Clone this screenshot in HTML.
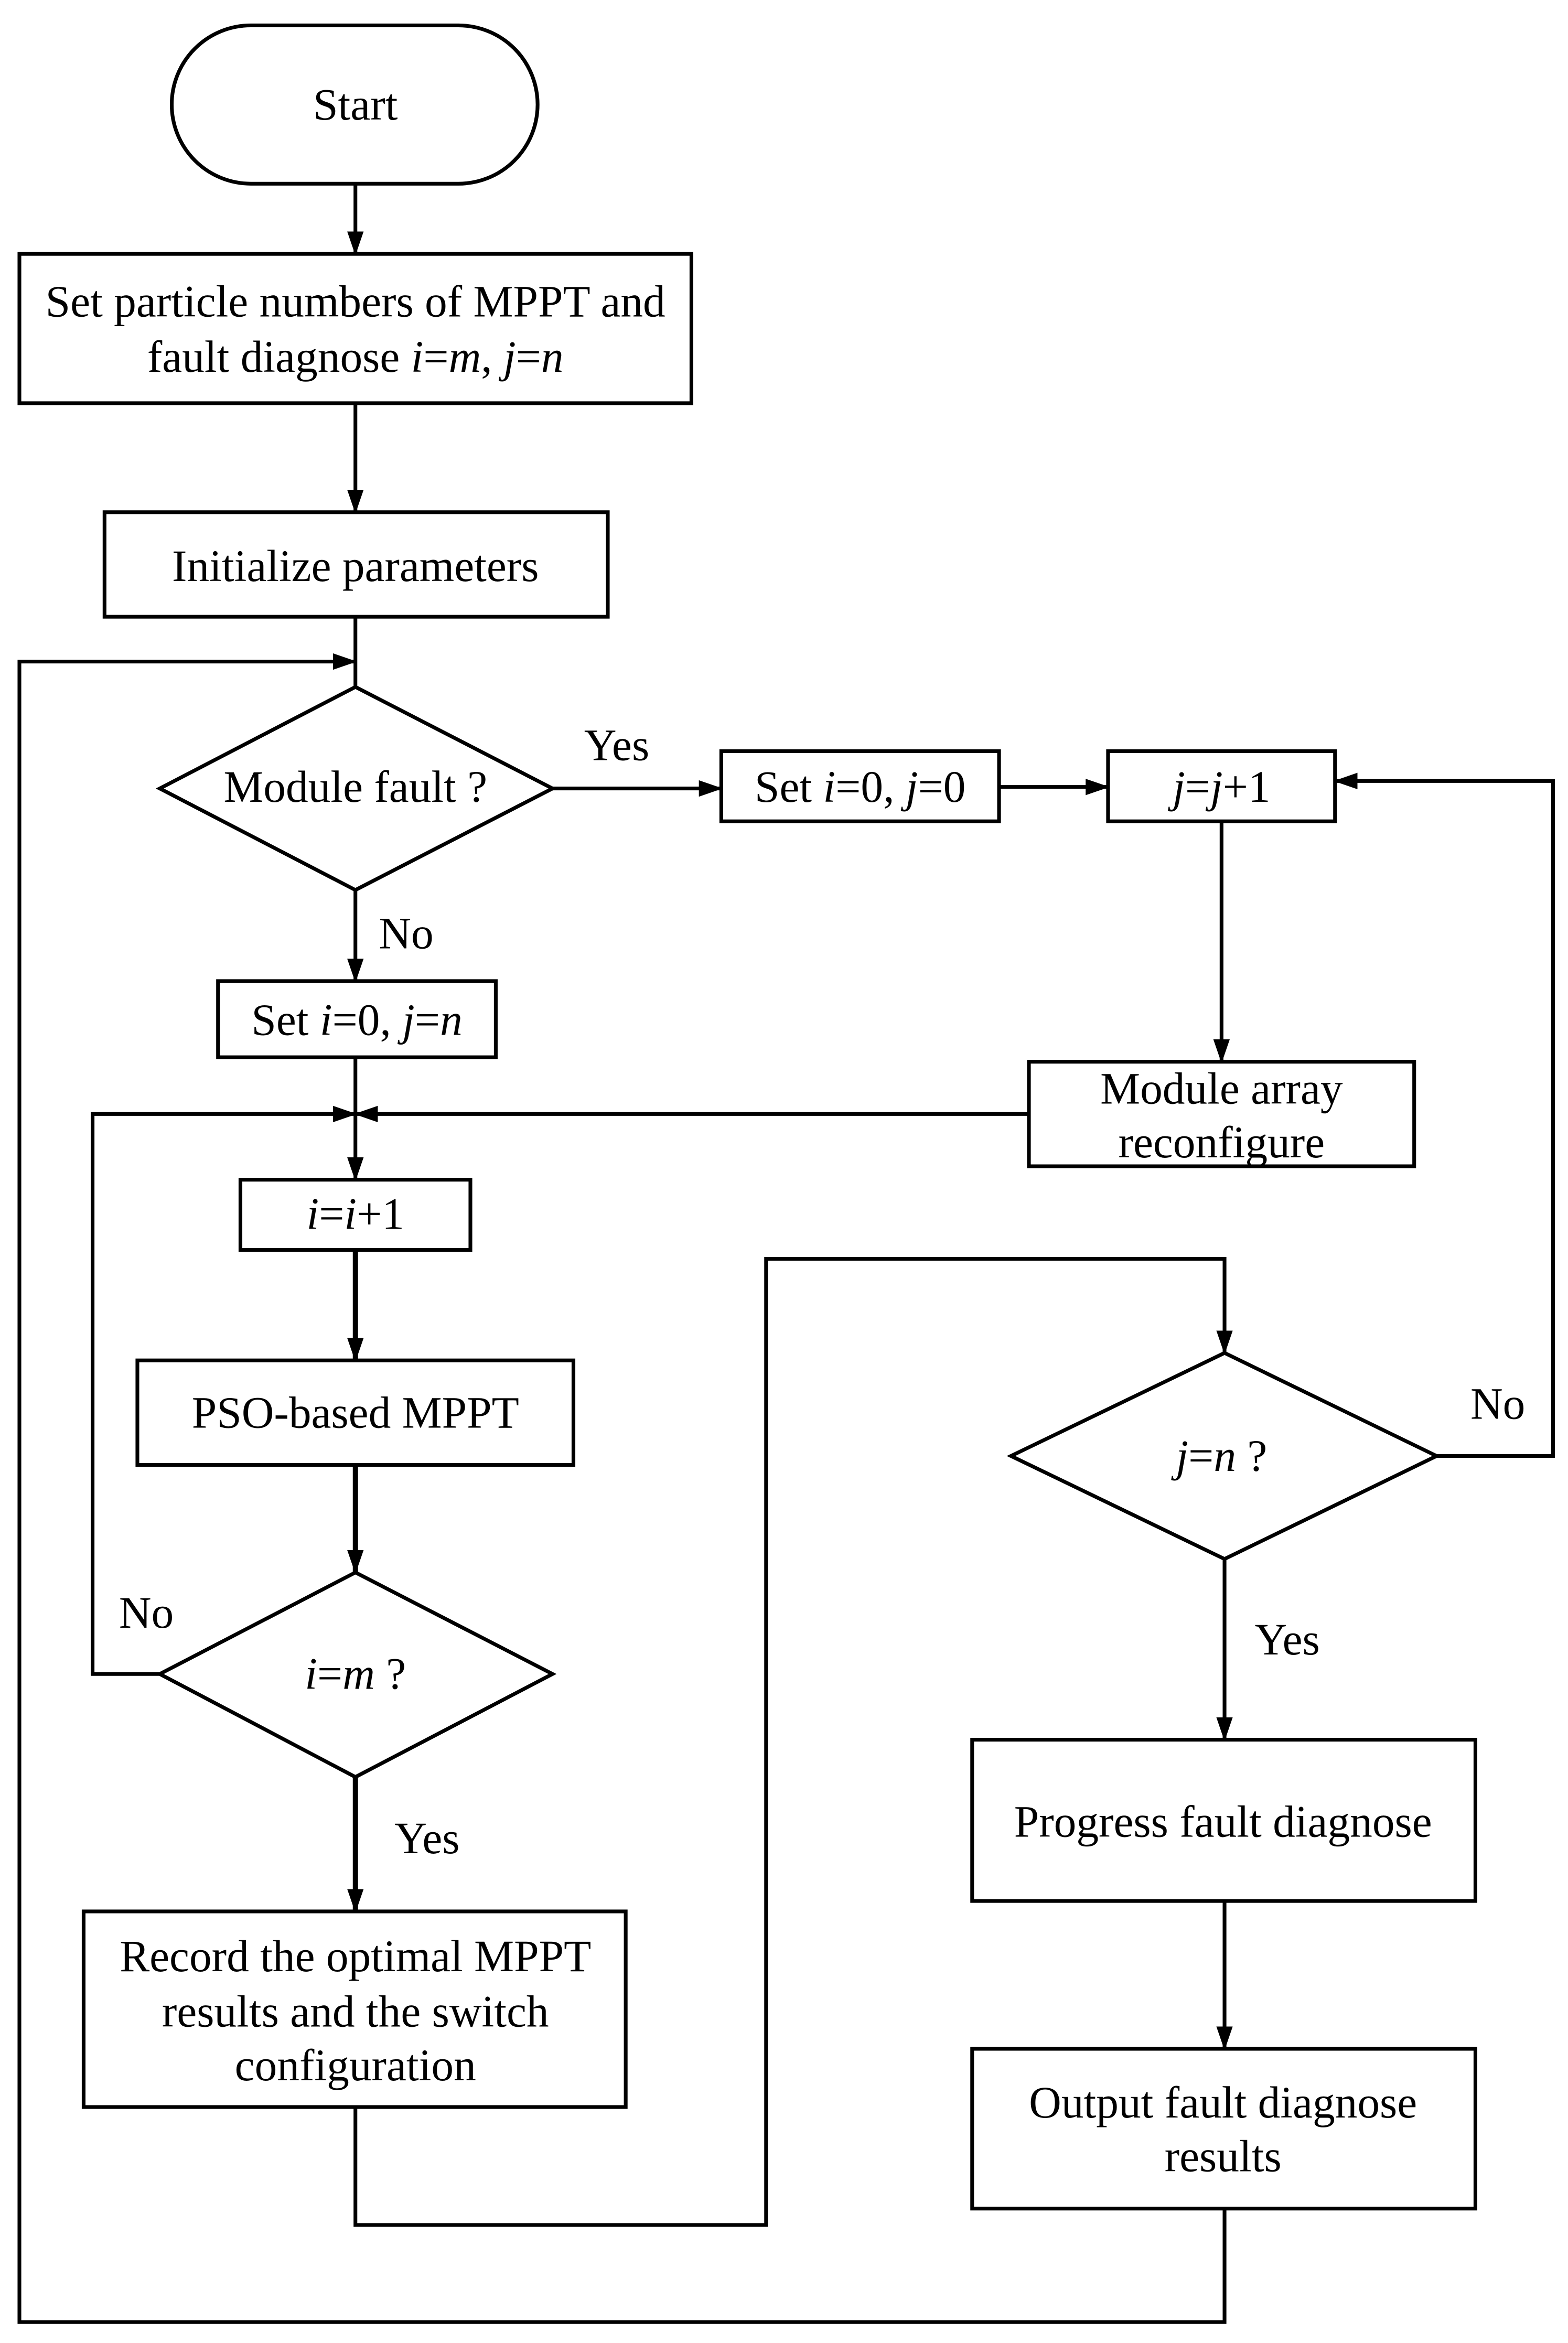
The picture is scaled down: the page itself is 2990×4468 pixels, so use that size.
<!DOCTYPE html>
<html><head><meta charset="utf-8"><style>html,body{margin:0;padding:0;background:#fff}svg{display:block}</style></head>
<body>
<svg xmlns="http://www.w3.org/2000/svg" width="2990" height="4468" viewBox="0 0 1050 1569">
<defs><marker id="a" markerWidth="16" markerHeight="11" refX="15" refY="5.5" orient="auto" markerUnits="userSpaceOnUse"><path d="M0,0 L16,5.5 L0,11 Z" fill="#000"/></marker></defs>
<g fill="none" stroke="#000" stroke-width="2.5">
<rect x="115" y="17" width="245" height="106" rx="53"/>
<rect x="13" y="170" width="450" height="100"/>
<rect x="70" y="343" width="337" height="70"/>
<polygon points="238,460 370,528 238,596 107,528"/>
<rect x="483" y="503" width="186" height="47"/>
<rect x="742" y="503" width="152" height="47"/>
<rect x="689" y="711" width="258" height="70"/>
<rect x="146" y="657" width="186" height="51"/>
<rect x="161" y="790" width="154" height="47"/>
<rect x="92" y="911" width="292" height="70"/>
<polygon points="238,1053 370,1121 238,1190 107,1121"/>
<rect x="56" y="1280" width="363" height="131"/>
<polygon points="820,906 962,975 820,1044 677,975"/>
<rect x="651" y="1165" width="337" height="108"/>
<rect x="651" y="1372" width="337" height="107"/>
<line x1="238" y1="123" x2="238" y2="170" marker-end="url(#a)"/>
<line x1="238" y1="270" x2="238" y2="343" marker-end="url(#a)"/>
<line x1="238" y1="413" x2="238" y2="460"/>
<line x1="370" y1="528" x2="483" y2="528" marker-end="url(#a)"/>
<line x1="669" y1="527" x2="742" y2="527" marker-end="url(#a)"/>
<polyline points="962,975 1040,975 1040,523 894,523" marker-end="url(#a)"/>
<line x1="818" y1="550" x2="818" y2="711" marker-end="url(#a)"/>
<line x1="689" y1="746" x2="238" y2="746" marker-end="url(#a)"/>
<line x1="238" y1="596" x2="238" y2="657" marker-end="url(#a)"/>
<line x1="238" y1="708" x2="238" y2="790" marker-end="url(#a)"/>
<polyline points="107,1121 62,1121 62,746 238,746" marker-end="url(#a)"/>
<line x1="238" y1="837" x2="238" y2="911" stroke-width="3.5" marker-end="url(#a)"/>
<line x1="238" y1="981" x2="238" y2="1053" stroke-width="3.5" marker-end="url(#a)"/>
<line x1="238" y1="1190" x2="238" y2="1280" stroke-width="3.5" marker-end="url(#a)"/>
<polyline points="238,1411 238,1490 513,1490 513,843 820,843 820,906" marker-end="url(#a)"/>
<line x1="820" y1="1044" x2="820" y2="1165" marker-end="url(#a)"/>
<line x1="820" y1="1273" x2="820" y2="1372" marker-end="url(#a)"/>
<polyline points="820,1479 820,1555 13,1555 13,443 238,443" marker-end="url(#a)"/>
</g>
<g font-family="'Liberation Serif',serif" font-size="30" text-anchor="middle" fill="#000">
<text x="238" y="80">Start</text>
<text x="238" y="212">Set particle numbers of MPPT and</text>
<text x="238" y="249">fault diagnose <tspan font-style="italic">i</tspan>=<tspan font-style="italic">m</tspan>,  <tspan font-style="italic">j</tspan>=<tspan font-style="italic">n</tspan></text>
<text x="238" y="389">Initialize parameters</text>
<text x="238" y="537">Module fault ?</text>
<text x="413" y="509">Yes</text>
<text x="576" y="537">Set <tspan font-style="italic">i</tspan>=0, <tspan font-style="italic">j</tspan>=0</text>
<text x="818" y="537"><tspan font-style="italic">j</tspan>=<tspan font-style="italic">j</tspan>+1</text>
<text x="1003" y="950">No</text>
<text x="818" y="739">Module array</text>
<text x="818" y="775">reconfigure</text>
<text x="272" y="635">No</text>
<text x="239" y="693">Set <tspan font-style="italic">i</tspan>=0, <tspan font-style="italic">j</tspan>=<tspan font-style="italic">n</tspan></text>
<text x="238" y="823"><tspan font-style="italic">i</tspan>=<tspan font-style="italic">i</tspan>+1</text>
<text x="238" y="956">PSO-based MPPT</text>
<text x="98" y="1090">No</text>
<text x="238" y="1131"><tspan font-style="italic">i</tspan>=<tspan font-style="italic">m</tspan> ?</text>
<text x="286" y="1241">Yes</text>
<text x="238" y="1320">Record the optimal MPPT</text>
<text x="238" y="1357">results and the switch</text>
<text x="238" y="1393">configuration</text>
<text x="818" y="985"><tspan font-style="italic">j</tspan>=<tspan font-style="italic">n</tspan> ?</text>
<text x="862" y="1108">Yes</text>
<text x="819" y="1230">Progress fault diagnose</text>
<text x="819" y="1418">Output fault diagnose</text>
<text x="819" y="1454">results</text>
</g>
</svg>
</body></html>
